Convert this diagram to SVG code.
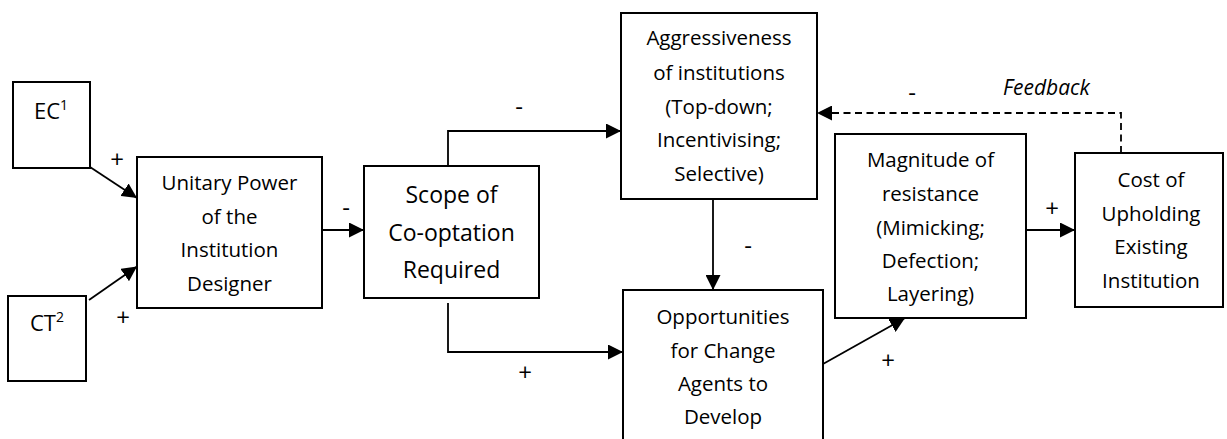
<svg xmlns="http://www.w3.org/2000/svg" width="1227" height="439" viewBox="0 0 1227 439">
  <style>
    .box { fill: #ffffff; stroke: #000000; stroke-width: 2; }
    .lbl { font-family: "Open Sans", "Liberation Sans", sans-serif; font-size: 20.5px; fill: #000000; text-anchor: middle; }
    .big { font-size: 23px; }
    .tag { font-size: 22px; }
    .sup { font-size: 14px; }
    .sign { font-family: "Open Sans", "Liberation Sans", sans-serif; font-size: 24px; fill: #000000; text-anchor: middle; }
    .note { font-family: "Open Sans", "Liberation Sans", sans-serif; font-size: 21px; font-style: italic; fill: #000000; }
    .link { fill: none; stroke: #000000; stroke-width: 1.8; }
    .dash { stroke-dasharray: 7 4.5; }
  </style>
  <defs>
    <marker id="head" viewBox="0 0 15 15" refX="15" refY="7.5" markerWidth="15" markerHeight="15" markerUnits="userSpaceOnUse" orient="auto">
      <path d="M0,0 L15,7.5 L0,15 Z" fill="#000000"/>
    </marker>
  </defs>

  <rect width="1227" height="439" fill="#ffffff"/>

  <g id="connectors">
    <path class="link" d="M90,167 L137,198" marker-end="url(#head)"/>
    <path class="link" d="M89,300 L137,266.5" marker-end="url(#head)"/>
    <path class="link" d="M322,230 H364" marker-end="url(#head)"/>
    <path class="link" d="M448,166 V131 H621" marker-end="url(#head)"/>
    <path class="link" d="M448,303 V352 H623" marker-end="url(#head)"/>
    <path class="link" d="M713,199 V290" marker-end="url(#head)"/>
    <path class="link" d="M823,364 L905,318" marker-end="url(#head)"/>
    <path class="link" d="M1026,230 H1075" marker-end="url(#head)"/>
    <path class="link dash" d="M1121,153 V113 H817" marker-end="url(#head)"/>

    <text class="sign" x="117" y="168">+</text>
    <text class="sign" x="123" y="326">+</text>
    <text class="sign" x="346" y="216">-</text>
    <text class="sign" x="519" y="115">-</text>
    <text class="sign" x="525" y="381">+</text>
    <text class="sign" x="748" y="254">-</text>
    <text class="sign" x="888" y="369">+</text>
    <text class="sign" x="1052" y="217">+</text>
    <text class="sign" x="912" y="101">-</text>
    <text class="note" x="1003" y="95">Feedback</text>
  </g>

  <g id="ec">
    <rect class="box" x="13" y="82" width="77" height="86"/>
    <text class="lbl tag" x="51" y="119">EC<tspan class="sup" dy="-9">1</tspan></text>
  </g>

  <g id="ct">
    <rect class="box" x="8" y="296" width="78" height="85"/>
    <text class="lbl tag" x="47" y="331">CT<tspan class="sup" dy="-9">2</tspan></text>
  </g>

  <g id="unitary-power">
    <rect class="box" x="137" y="157" width="185" height="151"/>
    <text class="lbl" x="229.5" y="190">Unitary Power</text>
    <text class="lbl" x="229.5" y="223.5">of the</text>
    <text class="lbl" x="229.5" y="257">Institution</text>
    <text class="lbl" x="229.5" y="290.5">Designer</text>
  </g>

  <g id="scope">
    <rect class="box" x="364" y="166" width="175" height="132"/>
    <text class="lbl big" x="451.5" y="203">Scope of</text>
    <text class="lbl big" x="451.5" y="240.5">Co-optation</text>
    <text class="lbl big" x="451.5" y="278">Required</text>
  </g>

  <g id="aggressiveness">
    <rect class="box" x="621" y="13" width="196" height="186"/>
    <text class="lbl" x="719" y="45">Aggressiveness</text>
    <text class="lbl" x="719" y="80">of institutions</text>
    <text class="lbl" x="719" y="114">(Top-down;</text>
    <text class="lbl" x="719" y="147">Incentivising;</text>
    <text class="lbl" x="719" y="181">Selective)</text>
  </g>

  <g id="opportunities">
    <rect class="box" x="623" y="290" width="200" height="160"/>
    <text class="lbl" x="723" y="324">Opportunities</text>
    <text class="lbl" x="723" y="358">for Change</text>
    <text class="lbl" x="723" y="391">Agents to</text>
    <text class="lbl" x="723" y="424">Develop</text>
  </g>

  <g id="magnitude">
    <rect class="box" x="835" y="134" width="191" height="184"/>
    <text class="lbl" x="930.5" y="167">Magnitude of</text>
    <text class="lbl" x="930.5" y="201">resistance</text>
    <text class="lbl" x="930.5" y="235">(Mimicking;</text>
    <text class="lbl" x="930.5" y="268">Defection;</text>
    <text class="lbl" x="930.5" y="301">Layering)</text>
  </g>

  <g id="cost">
    <rect class="box" x="1075" y="153" width="148" height="154"/>
    <text class="lbl" x="1151" y="187">Cost of</text>
    <text class="lbl" x="1151" y="221">Upholding</text>
    <text class="lbl" x="1151" y="254">Existing</text>
    <text class="lbl" x="1151" y="288">Institution</text>
  </g>
</svg>
